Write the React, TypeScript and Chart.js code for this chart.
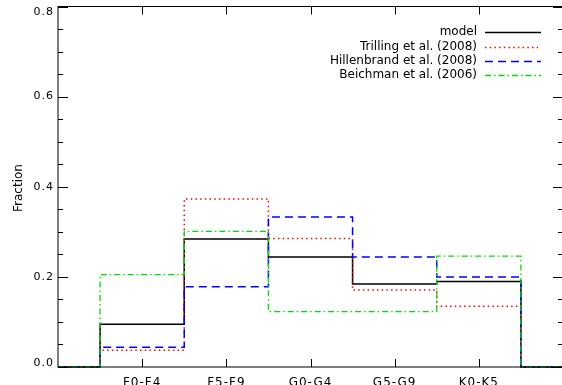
import React, { useEffect, useRef } from "react";
import { Chart, registerables } from "chart.js";

Chart.register(...registerables);

const categories = ["F0-F4", "F5-F9", "G0-G4", "G5-G9", "K0-K5"];
const modelValues = [0.095, 0.284, 0.244, 0.184, 0.19];
const trillingValues = [0.037, 0.373, 0.285, 0.171, 0.135];
const hillenbrandValues = [0.044, 0.178, 0.333, 0.244, 0.2];
const beichmanValues = [0.205, 0.301, 0.123, 0.123, 0.246];
const yTickValues = [0, 0.2, 0.4, 0.6, 0.8];
const seriesNames = ["model", "Trilling et al. (2008)", "Hillenbrand et al. (2008)", "Beichman et al. (2006)"];
const yTitle = "Fraction";

const FONT = '"DejaVu Sans", sans-serif';

function stepPoints(vals: number[]) {
  const pts: { x: number; y: number }[] = [{ x: -1, y: 0 }];
  vals.forEach((v, i) => pts.push({ x: i - 0.5, y: v }));
  pts.push({ x: vals.length - 0.5, y: 0 });
  pts.push({ x: vals.length, y: 0 });
  return pts;
}

const styles = [
  { color: "#000000", dash: [] as number[], width: 1.5 },
  { color: "#ff0000", dash: [1.5, 3.2], width: 1.5 },
  { color: "#0000ff", dash: [8, 5], width: 1.5 },
  { color: "#00dd00", dash: [6, 3, 1.5, 3], width: 1.3 },
];

const framePlugin = {
  id: "idlFrame",
  afterDraw(chart: any) {
    const ctx = chart.ctx as CanvasRenderingContext2D;
    const { left, right, top, bottom } = chart.chartArea;
    const xs = chart.scales.x;
    const ys = chart.scales.y;
    ctx.save();
    ctx.strokeStyle = "#000";
    ctx.lineWidth = 1;
    ctx.setLineDash([]);
    ctx.strokeRect(left, top, right - left, bottom - top);
    // y ticks
    ctx.beginPath();
    for (let k = 0; k <= 16; k++) {
      const v = k * 0.05;
      const y = Math.round(ys.getPixelForValue(v)) + 0.5;
      const len = k % 4 === 0 ? 10 : 5;
      ctx.moveTo(left, y);
      ctx.lineTo(left + len, y);
      ctx.moveTo(right, y);
      ctx.lineTo(right - len, y);
    }
    // x ticks
    categories.forEach((_, i) => {
      const x = Math.round(xs.getPixelForValue(i)) + 0.5;
      ctx.moveTo(x, bottom);
      ctx.lineTo(x, bottom - 8);
      ctx.moveTo(x, top);
      ctx.lineTo(x, top + 8);
    });
    ctx.stroke();

    ctx.fillStyle = "#000";
    (ctx as any).letterSpacing = "1px";
    ctx.font = `11px ${FONT}`;
    ctx.textAlign = "right";
    ctx.textBaseline = "middle";
    yTickValues.forEach((v) => {
      let y = ys.getPixelForValue(v);
      y = Math.max(top + 6, Math.min(bottom - 4, y));
      ctx.fillText(v.toFixed(1), 54, y);
    });
    ctx.font = `12px ${FONT}`;
    ctx.textAlign = "center";
    ctx.textBaseline = "alphabetic";
    categories.forEach((c, i) => {
      ctx.fillText(c, xs.getPixelForValue(i), 386);
    });
    (ctx as any).letterSpacing = "0px";
    // y title
    ctx.save();
    ctx.translate(19, 188);
    ctx.rotate(-Math.PI / 2);
    ctx.textAlign = "center";
    ctx.textBaseline = "middle";
    ctx.font = `12px ${FONT}`;
    ctx.fillText(yTitle, 0, 0);
    ctx.restore();

    // legend
    seriesNames.forEach((name, i) => {
      const y = 32.3 + i * 14.3;
      ctx.font = `12px ${FONT}`;
      ctx.textAlign = "right";
      ctx.textBaseline = "middle";
      ctx.fillStyle = "#000";
      ctx.fillText(name, 477, y);
      const st = styles[i];
      ctx.strokeStyle = st.color;
      ctx.lineWidth = st.width;
      ctx.setLineDash(st.dash);
      ctx.beginPath();
      ctx.moveTo(485, Math.round(y) + 0.5);
      ctx.lineTo(541, Math.round(y) + 0.5);
      ctx.stroke();
    });
    ctx.restore();
  },
};

export default function App() {
  const ref = useRef<HTMLCanvasElement | null>(null);
  useEffect(() => {
    if (!ref.current) return;
    const all = [modelValues, trillingValues, hillenbrandValues, beichmanValues];
    const chart = new Chart(ref.current, {
      type: "line",
      data: {
        datasets: all.map((vals, i) => ({
          label: seriesNames[i],
          data: stepPoints(vals),
          borderColor: styles[i].color,
          borderWidth: styles[i].width,
          borderDash: styles[i].dash,
          pointRadius: 0,
          stepped: "before" as const,
          fill: false,
          clip: false as any,
          order: 4 - i,
        })),
      },
      options: {
        animation: false,
        responsive: false,
        events: [],
        layout: { padding: { left: 58, right: 7, top: 6.5, bottom: 18 } },
        plugins: { legend: { display: false }, tooltip: { enabled: false } },
        scales: {
          x: { type: "linear", min: -1, max: 5, display: false },
          y: { type: "linear", min: 0, max: 0.8, display: false },
        },
      },
      plugins: [framePlugin],
    });
    return () => chart.destroy();
  }, []);
  return (
    <div style={{ position: "fixed", left: 0, top: 0, width: 562, height: 385, overflow: "hidden", background: "#fff" }}>
      <canvas ref={ref} width={570} height={385} style={{ display: "block", width: 570, height: 385 }} />
    </div>
  );
}
